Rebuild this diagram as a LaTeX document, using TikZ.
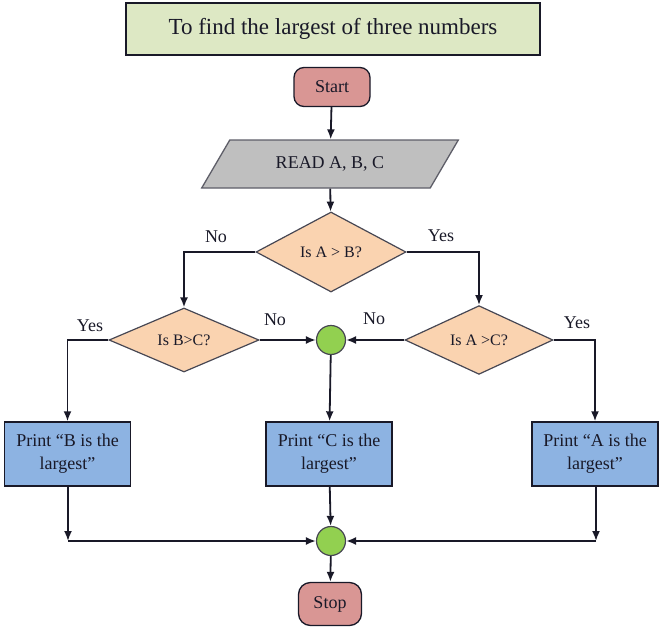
\documentclass[tikz,border=0pt]{standalone}
\usepackage{fontspec}
\setmainfont{Liberation Serif}
\usetikzlibrary{shapes.geometric,arrows.meta}

\definecolor{titlegreen}{RGB}{221,232,196}
\definecolor{termred}{RGB}{217,150,148}
\definecolor{iogrey}{RGB}{191,191,191}
\definecolor{decpeach}{RGB}{250,211,176}
\definecolor{procblue}{RGB}{141,179,226}
\definecolor{joingreen}{RGB}{146,208,80}
\definecolor{inkdark}{RGB}{25,25,40}

\tikzset{
  bodytext/.style={font=\fontsize{18}{23}\selectfont, text=inkdark},
  titlebox/.style={draw=inkdark, line width=1.6pt, fill=titlegreen, minimum width=414pt, minimum height=52pt, font=\fontsize{23}{27}\selectfont, text=inkdark},
  terminal/.style={bodytext, draw=inkdark, line width=1.3pt, fill=termred, rounded corners=10pt},
  iobox/.style={bodytext, draw=inkdark!70, line width=1.3pt, fill=iogrey, trapezium, trapezium left angle=44, trapezium right angle=136, trapezium stretches=true, minimum width=257pt, minimum height=48pt, inner sep=0pt},
  decision/.style={bodytext, draw=inkdark!80, line width=1.2pt, fill=decpeach, diamond, inner sep=0pt, font=\fontsize{16}{20}\selectfont},
  process/.style={bodytext, draw=inkdark, line width=1.4pt, fill=procblue, minimum width=126pt, minimum height=64pt, align=center, inner sep=2pt},
  joint/.style={draw=inkdark!80, line width=1.2pt, fill=joingreen, circle, minimum size=29pt, inner sep=0pt},
  branch/.style={bodytext, font=\fontsize{18}{22}\selectfont},
  line/.style={line width=1.8pt, draw=inkdark}
}

\begin{document}
\begin{tikzpicture}[x=1pt, y=-1pt, >={Latex[length=10pt,width=8pt]}]
        \useasboundingbox (0,0) rectangle (659,629);

        % Nodes
        \node (title) [titlebox] at (333,29) {To find the largest of three numbers};
        \node (start) [terminal, minimum width=76pt, minimum height=39pt] at (332,87) {Start};
        \node (read) [iobox] at (330,164) {READ A, B, C};
        \node (dAB) [decision, minimum width=150pt, minimum height=80pt] at (331,252) {Is A > B?};
        \node (dBC) [decision, minimum width=150pt, minimum height=64pt] at (184,340) {Is B>C?};
        \node (dAC) [decision, minimum width=148pt, minimum height=66pt] at (479,340) {Is A >C?};
        \node (mid) [joint] at (331,340) {};
        \node (printB) [process] at (67.5,454) {Print “B is the\\largest”};
        \node (printC) [process] at (329,454) {Print “C is the\\largest”};
        \node (printA) [process] at (595,454) {Print “A is the\\largest”};
        \node (join) [joint] at (331,541) {};
        \node (stop) [terminal, minimum width=63pt, minimum height=43pt, rounded corners=12pt] at (330,604) {Stop};
        \coordinate (cornerB) at (68,541);
        \coordinate (cornerA) at (596,541);

        % Labels
        \node (noAB) [branch] at (216,237) {No};
        \node (yesAB) [branch] at (441,236) {Yes};
        \node (yesBC) [branch] at (90,326) {Yes};
        \node (noBC) [branch] at (275,320) {No};
        \node (noAC) [branch] at (374,319) {No};
        \node (yesAC) [branch] at (577,323) {Yes};

        % Arrows
        \draw [line, ->] (start) -- (read);
        \draw [line, ->] (read) -- (dAB);
        \draw [line, ->] (dAB.west) -| (dBC.north);
        \draw [line, ->] (dAB.east) -| (dAC.north);
        \draw [line, ->] (dBC.east) -- (mid.west);
        \draw [line, ->] (dAC.west) -- (mid.east);
        \draw [line, ->] (dBC.west) -| (printB.north);
        \draw [line, ->] (dAC.east) -| (printA.north);
        \draw [line, ->] (mid) -- (printC);
        \draw [line, ->] (printB.south -| cornerB) -- (cornerB);
        \draw [line, ->] (cornerB) -- (join.west);
        \draw [line, ->] (printA.south -| cornerA) -- (cornerA);
        \draw [line, ->] (cornerA) -- (join.east);
        \draw [line, ->] (printC) -- (join);
        \draw [line, ->] (join) -- (stop);

    \end{tikzpicture}
\end{document}
